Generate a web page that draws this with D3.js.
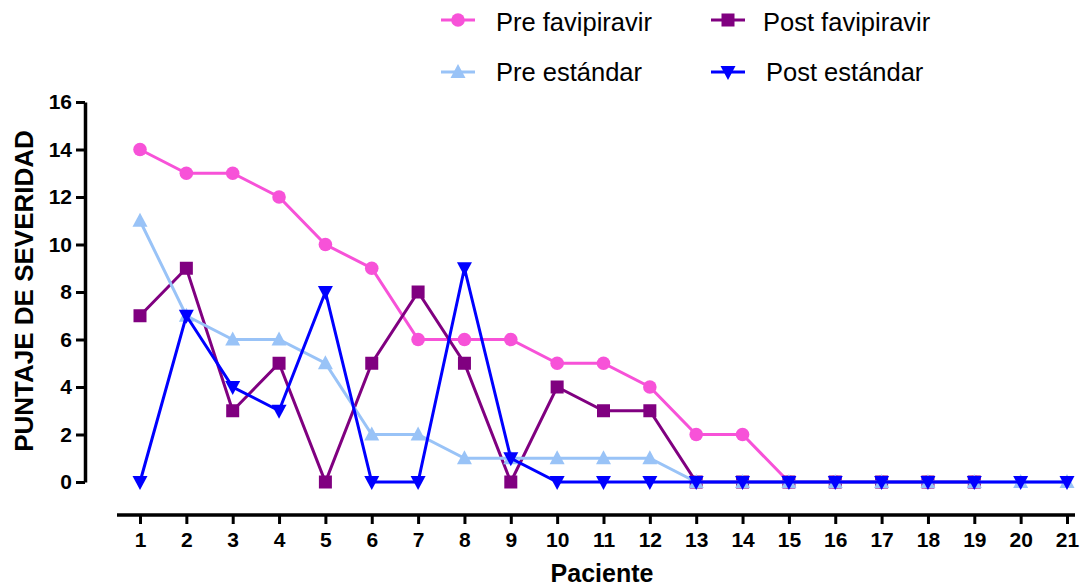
<!DOCTYPE html>
<html><head><meta charset="utf-8">
<script src="https://cdn.jsdelivr.net/npm/d3@7"></script>
<style>body{margin:0;background:#fff}svg{display:block}text{font-family:"Liberation Sans",Arial,sans-serif}</style>
</head><body>
<script>
const patients = d3.range(1, 22);
const preFavipiravir = [14,13,13,12,10,9,6,6,6,5,5,4,2,2,0,0,0,0,0];
const postFavipiravir = [7,9,3,5,0,5,8,5,0,4,3,3,0,0,0,0,0,0,0];
const preEstandar = [11,7,6,6,5,2,2,1,1,1,1,1,0,0,0,0,0,0,0,0,0];
const postEstandar = [0,7,4,3,8,0,0,9,1,0,0,0,0,0,0,0,0,0,0,0,0];
const yTicks = [0,2,4,6,8,10,12,14,16];
const seriesNames = ["Pre favipiravir","Post favipiravir","Pre estándar","Post estándar"];

const W = 1080, H = 587;
const svg = d3.select("body").append("svg").attr("width", W).attr("height", H);
const x = d3.scaleLinear().domain([1, 21]).range([140, 1067]);
const y = d3.scaleLinear().domain([0, 16]).range([482, 102]);

const series = [
  {name: seriesNames[0], data: preFavipiravir, color: "#F752D8", shape: "circle"},
  {name: seriesNames[1], data: postFavipiravir, color: "#800080", shape: "square"},
  {name: seriesNames[2], data: preEstandar, color: "#99C3F7", shape: "up"},
  {name: seriesNames[3], data: postEstandar, color: "#0000FF", shape: "down"}
];

function marker(g, shape, color, cx, cy) {
  if (shape === "circle") g.append("circle").attr("cx", cx).attr("cy", cy).attr("r", 6.8).attr("fill", color);
  else if (shape === "square") g.append("rect").attr("x", cx - 6.5).attr("y", cy - 6.5).attr("width", 13).attr("height", 13).attr("fill", color);
  else if (shape === "up") g.append("path").attr("d", `M${cx},${cy-8}L${cx+7.5},${cy+6}L${cx-7.5},${cy+6}Z`).attr("fill", color);
  else g.append("path").attr("d", `M${cx},${cy+8}L${cx+7.5},${cy-6}L${cx-7.5},${cy-6}Z`).attr("fill", color);
}

const tickFont = sel => sel.attr("font-weight", "bold").attr("fill", "#000")
  .style("font-size", "21px").style("font-family", "'Liberation Sans',Arial,sans-serif");

// Y axis
const yAxis = svg.append("g").attr("transform", "translate(85,0)")
  .call(d3.axisLeft(y).tickValues(yTicks).tickSize(9).tickPadding(4).tickSizeOuter(0));
yAxis.select(".domain").attr("stroke", "#000").attr("stroke-width", 3.5);
yAxis.selectAll(".tick line").attr("stroke", "#000").attr("stroke-width", 3);
yAxis.selectAll(".tick text").call(tickFont);

// X axis
const xAxis = svg.append("g").attr("transform", "translate(0,515)")
  .call(d3.axisBottom(x).tickValues(patients).tickFormat(d3.format("d")).tickSize(9).tickPadding(8).tickSizeOuter(0));
xAxis.select(".domain").attr("d", "M117,0H1075").attr("stroke", "#000").attr("stroke-width", 3.5);
xAxis.selectAll(".tick line").attr("stroke", "#000").attr("stroke-width", 3);
xAxis.selectAll(".tick text").call(tickFont);

// Axis titles
svg.append("text").attr("x", 602).attr("y", 582).attr("text-anchor", "middle")
  .attr("font-size", 25).attr("font-weight", "bold").text("Paciente");
svg.append("text").attr("transform", "translate(33,291) rotate(-90)").attr("text-anchor", "middle")
  .attr("font-size", 26).attr("font-weight", "bold").text("PUNTAJE DE SEVERIDAD");

// Series
const line = d3.line().x((d, i) => x(patients[i])).y(d => y(d));
series.forEach(s => {
  const g = svg.append("g");
  g.append("path").attr("d", line(s.data)).attr("fill", "none").attr("stroke", s.color).attr("stroke-width", 3);
  s.data.forEach((v, i) => marker(g, s.shape, s.color, x(patients[i]), y(v)));
});

// Legend
const legendPos = [[458, 20, 496, 31], [728, 20, 763, 31], [458, 72, 496, 81], [728, 72, 766, 81]];
series.forEach((s, i) => {
  const [mx, my, tx, ty] = legendPos[i];
  const g = svg.append("g");
  g.append("line").attr("x1", mx - 17).attr("x2", mx + 17).attr("y1", my).attr("y2", my).attr("stroke", s.color).attr("stroke-width", 3);
  marker(g, s.shape, s.color, mx, my);
  g.append("text").attr("x", tx).attr("y", ty).attr("font-size", 25.5).attr("fill", "#000").text(s.name);
});
</script>
</body></html>
